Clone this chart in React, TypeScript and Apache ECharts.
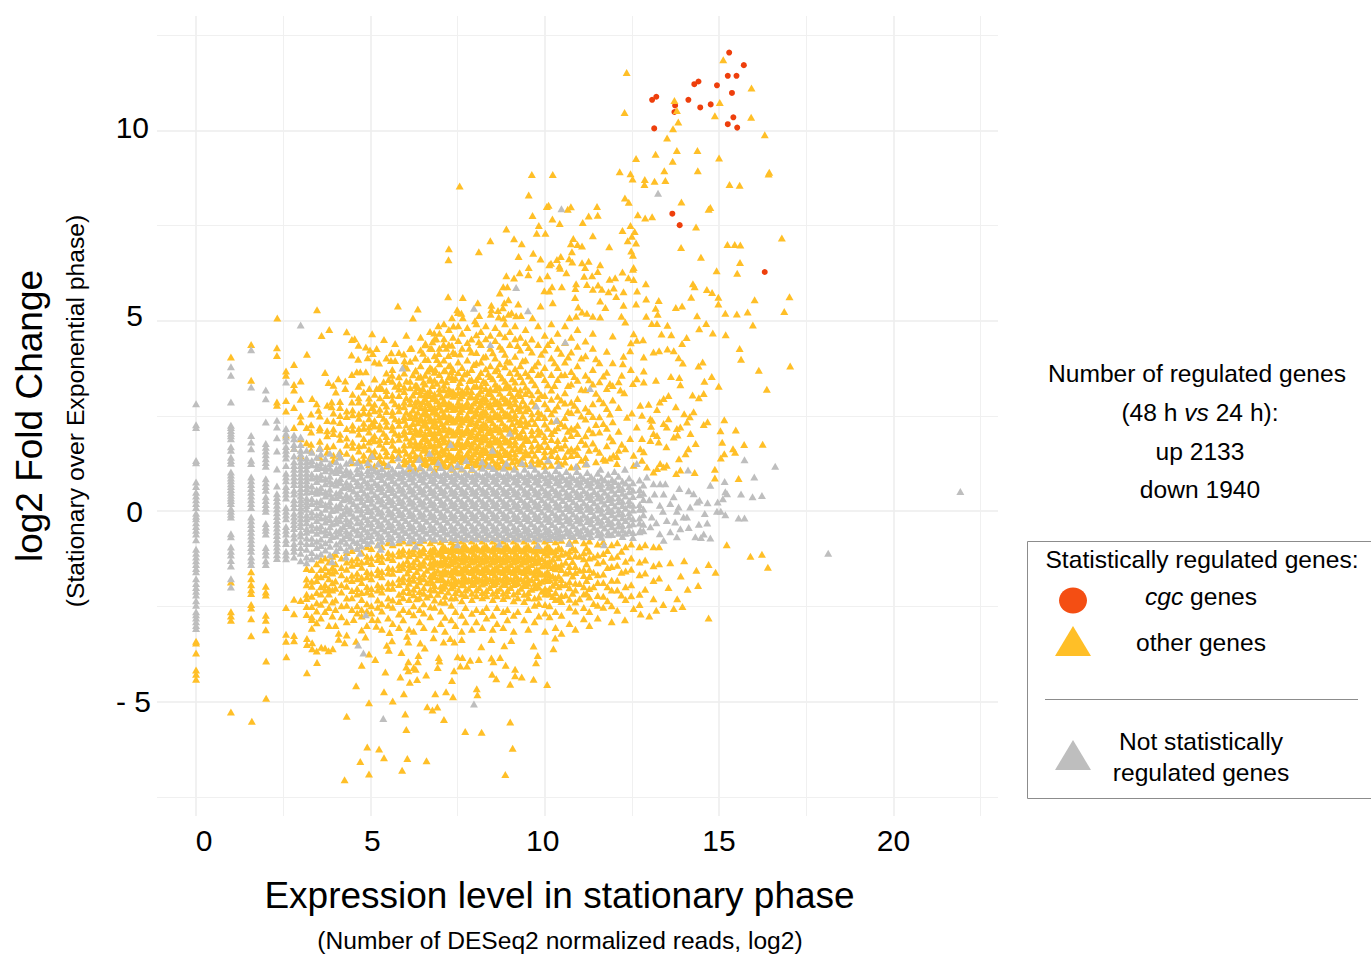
import React, { useEffect, useRef } from "react";
import * as echarts from "echarts";

const majorX = [0, 5, 10, 15, 20];
const minorX = [2.5, 7.5, 12.5, 17.5, 22.5];
const majorY = [-5, 0, 5, 10];
const minorY = [-7.5, -2.5, 2.5, 7.5, 12.5];
const xTickLabels = ["0", "5", "10", "15", "20"];
const yTickLabels = ["- 5", "0", "5", "10"];

const cgcGenes: number[][] = [
  [15.29,12.04],[15.71,11.71],[15.25,11.43],[15.5,11.43],[14.41,11.28],[14.29,11.21],[14.94,11.18],[15.37,10.98],[13.2,10.88],[13.08,10.8],[14.12,10.8],[13.74,10.65],[14.46,10.6],[14.76,10.68],[13.72,10.48],[15.41,10.34],[15.25,10.16],[15.52,10.07],[13.14,10.05],[13.66,7.81],[13.87,7.51],[16.31,6.28],
];

const otherTop: number[][] = [
  [15.12,11.85],[12.35,11.52],[15.93,11.11],[13.72,10.78],[15.02,10.73],[12.29,10.47],[13.79,10.52],[14.88,10.38],[15.92,10.34],[13.83,10.22],[13.68,10.04],[16.31,9.88],[13.51,9.8],[13.79,9.47],[14.38,9.47],[13.18,9.37],[12.62,9.26],[15,9.27],[13.67,9.19],[13.43,8.94],[14.39,8.94],[12.15,8.91],[12.46,8.86],[12.52,8.72],[12.87,8.71],[13.15,8.66],[13.46,8.68],[12.86,8.58],[16.44,8.9],[16.42,8.85],[15.3,8.58],[15.59,8.56],[12.3,8.22],[12.41,8.11],[13.92,8.12],[14.75,7.97],[14.7,7.93],[11.5,8],[11.26,7.75],[11.52,7.77],[12.67,7.78],[12.88,7.7],[13.08,7.73],[11.09,7.58],[12.46,7.5],[14.34,7.46],[12.23,7.37],[12.58,7.34],[11.38,7.23],[12.5,7.22],[12.38,7.1],[12.62,7.04],[16.8,7.17],[15.24,7],[15.45,7],[15.61,6.99],[11.07,6.96],[11.85,6.94],[13.91,6.92],[12.48,6.83],[12.53,6.72],[14.48,6.67],[15.6,6.53],[11.07,6.52],[11.26,6.56],[11.59,6.47],[11.16,6.4],[12.55,6.4],[12.53,6.35],[12.23,6.28],[11.52,6.29],[14.93,6.31],[15.52,6.25],[11.13,6.17],[11.36,6.18],[11.86,6.09],[12.02,6.13],[12.4,6.13],[12.55,6.08],[12.9,5.97],[14.25,5.97],[14.3,5.89],[11.21,5.95],[11.53,5.94],[11.38,5.83],[11.64,5.83],[14.65,5.82],[14.8,5.74],[11.98,5.86],[11.83,5.76],[12.05,5.64],[12.26,5.76],[12.65,5.78],[17.02,5.63],[14.2,5.62],[14.98,5.62],[16.02,5.55],[12.91,5.57],[13.27,5.53],[11.59,5.52],[14.98,5.44],[12.62,5.44],[12.26,5.41],[11.74,5.35],[13.94,5.39],[13.76,5.35],[13.18,5.33],[15.18,5.2],[15.82,5.23],[16.87,5.24],[15.51,5.18],[14.37,5.13],[13.24,5.17],[12.91,5.12],[12.2,5.12],[11.07,5.23],[11.21,5.2],[11.38,5.12],[11.59,5.1],
  [7.56,8.54],[9.63,8.84],[10.23,8.84],[9.54,8.3],[10.11,8.03],[10.06,8],[10.75,7.99],[10.66,7.93],[9.65,7.76],[10.22,7.67],[10.43,7.55],[9.83,7.5],[8.9,7.41],[9.77,7.3],[10.02,7.3],[9.12,7.15],[8.44,7.1],[9.34,7.02],[10.82,7.16],[10.75,7.02],[10.94,7],[7.25,6.89],[8.11,6.81],[7.24,6.6],[9.67,6.77],[10.78,6.81],[9.25,6.69],[9.88,6.62],[10.46,6.69],[10.35,6.61],[10.7,6.63],[10.79,6.54],[10.18,6.51],[10.13,6.47],[10.42,6.44],[10.44,6.38],[9.54,6.4],[9.28,6.26],[10.62,6.26],[9.53,6.21],[9.12,6.12],[8.9,6.18],[10.08,6.18],[9.86,6.1],[10.9,5.97],[8.81,5.89],[8.93,5.89],[10.21,5.89],[10.49,5.89],[9.99,5.79],[10.13,5.78],[10.88,5.85],[8.71,5.73],[7.23,5.63],[7.65,5.61],[10.87,5.61],[8.96,5.55],[8.84,5.47],[8.08,5.47],[9.24,5.44],[8.47,5.41],[9.88,5.39],[10.23,5.47],[8.8,5.34],[5.79,5.39],[6.36,5.31],[3.47,5.29],[2.33,5.07],[7.49,5.29],[7.61,5.2],[7.51,5.22],[8.66,5.27],[8.47,5.29],[9.05,5.21],[8.12,5.14],[8.45,5.17],[8.96,5.17],[9.18,5.13],[9.32,5.14],[8.68,5.1],[8.82,5.07],[9.65,5.08],[10.71,5.08],[10.9,5.12],[10.96,5.36],[6.22,5.07],[7.34,5.08],[7.65,5.08],[8,5],
];

const otherBottom: number[][] = [
  [4.26,-7.05],[4.96,-6.9],[5.91,-6.8],[8.87,-6.91],[4.71,-6.57],[5.39,-6.47],[6.06,-6.49],[6.61,-6.55],[4.91,-6.19],[5.25,-6.24],[9.08,-6.22],[6.03,-5.73],[7.72,-5.78],[8.19,-5.8],[9.01,-5.53],[7.11,-5.47],[4.32,-5.38],[6,-5.32],[6.78,-5.22],[6.92,-5.14],[6.63,-5.13],[1.6,-5.51],[1,-5.27],[2.01,-4.91],[4.96,-5.03],[5.64,-4.98],[8.07,-4.82],[8.05,-4.66],[7.37,-4.87],[7.17,-4.74],[6.86,-4.79],[5.96,-4.79],[5.39,-4.74],[10.07,-4.55],[9.01,-4.54],[4.59,-4.58],[7.34,-4.44],[6.13,-4.49],[6.34,-4.42],[6.6,-4.3],[5.86,-4.35],[5.43,-4.22],[3.18,-4.24],[0,-4.41],[0,-4.28],[0,-4.17],[0,-3.72],[0,-3.46],[0,-3.41],[2.01,-3.93],[3.47,-3.97],[2.59,-3.82],[4.75,-4.04],[5.14,-3.89],[4.96,-3.75],[4.59,-3.41],[4.86,-3.3],[4.75,-3.12],[4.26,-3.45],[4.09,-3.36],[4.09,-3.2],[4.32,-3.25],[3.92,-3.61],[3.8,-3.66],[3.7,-3.59],[3.59,-3.57],[3.46,-3.67],[3.33,-3.61],[3.33,-3.45],[3.18,-3.5],[3.18,-3.34],[2.81,-3.26],[2.81,-3.4],[2.58,-3.23],[2.58,-3.41],[1.58,-3.27],[2,-3.11],[2,-2.73],[2,-2.86],[1.58,-2.82],[1,-2.64],[1,-2.75],[1,-2.86],[1.58,-2.54],[1.58,-2.45],[1.58,-2.16],[1.58,-2.06],[1.58,-1.93],[1.58,-1.77],[1.58,-1.59],[2,-2.2],[2,-2.12],[2,-1.97],[1,-1.86],[2.58,-2.53],[2.81,-2.69],[2.81,-2.31],[3,-2.34],[3.17,-2.29],[3.17,-2.71],[3.32,-2.84],[3.32,-2.77],[3.46,-2.93],[3.32,-3.07],[3.46,-2.62],[3.7,-2.63],[3.91,-2.75],[4.17,-2.77],[4.52,-2.84],[4.75,-2.75],[5.05,-2.84],[5.17,-3.02],[5.55,-3.18],[5.62,-3.4],[5.47,-3.52],[5.53,-3.65],[5.89,-3.71],[6.56,-3.59],[6.43,-3.46],[6.05,-3.28],[6.09,-3.43],[6.81,-3.32],[7.1,-3.43],[7.29,-3.34],[7.41,-3.43],[7.62,-3.37],[8.18,-3.56],[8.47,-3.37],[8.84,-3.53],[9.04,-3.39],[9.68,-3.54],[10.3,-3.33],[10.25,-3.61],[9.8,-3.79],[9.75,-3.98],[8.72,-3.84],[8.47,-3.85],[8.53,-3.95],[8.88,-4.04],[9.15,-4.15],[9.15,-4.32],[9.34,-4.35],[8.49,-4.28],[8.61,-4.4],[9.68,-4.41],[8.11,-3.89],[7.86,-3.91],[7.77,-4.06],[7.58,-4.06],[7.64,-3.84],[7.5,-3.82],[7.4,-4.19],[6.96,-3.84],[6.98,-3.93],[6.93,-4.1],[6.38,-3.79],[6.36,-3.95],[6.09,-3.95],[6.03,-4.09],[6.09,-4.19],[6.24,-4.1],[6.3,-4.15],
  [15.22,-.88],[15.9,-1.18],[16.23,-1.13],[16.4,-1.47],[14.7,-1.4],[14.9,-1.6],[14.7,-2.8],[14.35,-1.55],[14.4,-1.95],[14,-1.3],[14.1,-2.05],[13.9,-1.7],[13.8,-2.3],[13.95,-2.5],[13.6,-1.35],[13.55,-2],[13.4,-2.45],[13.2,-2.6],[13,-2.75],[12.75,-2.7],[12.55,-2.55],[12.3,-2.85],[13.7,-2.55],
];

const otherUpperLeft: number[][] = [
  [3.82,4.77],[3.6,4.61],[4.32,4.71],[5.05,4.66],[5.39,4.51],[4.47,4.51],[4.55,4.53],[4.66,4.36],[3.18,4.12],[4.46,4.1],[4.87,4.31],[4.99,4.23],[5.18,4.27],[4.92,4.03],[5.07,4.14],[4.65,3.99],[5.25,3.89],[5.6,4.16],[5.96,4.13],[6.18,4.28],[5.59,3.96],[5.71,3.96],[5.98,3.95],[6.58,4.4],[6.95,4.87],[6.83,4.68],[6.89,4.53],[6.76,4.27],[6.96,4.14],[7.1,4.38],[7.34,4.36],[7.43,4.14],[7.24,4.09],[7.38,4.86],[6.65,3.98],[6.76,3.74],[6.86,3.72],[6.3,3.7],[6.05,3.76],[3.7,3.64],[2.81,3.85],[4.47,3.59],[4.61,3.66],[4.71,3.66],[4.87,3.66],[3,3.42],[3.8,3.38],[4.08,3.48],[4.28,3.42],[3.94,3.31],[4.01,3.13],[4.28,3.22],[4.66,3.28],[4.75,3.37],[4.97,3.22],[5.52,3.46],[5.62,3.57],[5.83,3.35],[5.18,3.22],[5.33,3.22],[6.38,3.52],[6.33,3.31],[6.52,3.39],[6.71,3.44],[7.14,3.7],[7.29,3.83],[7.34,3.52],[3.33,2.96],[3,2.94],[4.66,2.98],[4.47,2.87],[4.13,2.72],[3.89,2.87],[3.46,2.82],[3.51,2.65],[3.89,2.74],
  [1,4.05],[1.58,4.38],[1.58,3.44],[2.32,4.29],[2.32,4.09],[2.32,2.87],[2.32,2.78],[2.58,3.68],[2.58,3.57],[2.58,2.91],[2.58,2.63],[2.81,3.33],[2.81,3.18],[2.81,2.72],[3,2.5],[3,2.35],[3.17,2.2],[2.81,2.2],[2.58,2],[3,1.9],[3.17,1.8],[2.81,1.65],[3,1.45],
];

const otherUpperRight: number[][] = [
  [15.97,4.89],[15.19,4.63],[14.82,4.68],[14.63,4.93],[14.43,4.79],[14.07,4.56],[13.94,4.4],[13.63,4.63],[13.35,4.65],[15.59,4.27],[15.63,3.99],[16.14,3.7],[17.04,3.81],[16.37,3.2],[14.79,3.54],[14.58,3.41],[14.99,3.28],[14.53,3.92],[14.41,3.81],[13.96,3.89],[13.52,4.26],[13.7,4.21],[13.84,4.03],[13.19,3.44],[12.84,4.05],[13.12,4.18],[13.28,4.21],[12.84,3.68],[12.84,3.39],[13.62,3.54],[13.86,3.51],[13.89,3.32],[13.76,2.74],[14.24,3.05],[14.42,2.98],[14.56,3.09],[14.27,2.61],[14,2.56],[14.16,2.48],[14.08,2.34],[14.67,2.35],[14.56,2.28],[15.15,2.4],[15.04,2.11],[15.48,2.13],[15.09,1.81],[15.72,1.75],[16.25,1.76],[15.4,1.64],[15.46,1.55],[14.33,1.78],[14.18,2.04],[14.12,1.64],[14.04,1.51],[15.15,1.51],[15.05,1.4],[13.85,1.38],[14.88,1.1],[13.89,1.08],[14.3,1.02],[13.77,.99],[14.88,.87],[15.56,.86],
  [12.31,4.97],[12.55,4.66],[12.64,4.49],[12.82,4.5],[12.47,4.42],[13.07,4.93],[13.22,4.93],[13.52,4.88],[12.45,4.21],[12.26,4.07],[12.24,3.87],[12.47,3.72],[12.21,3.57],[12.64,3.48],[12.53,3.35],[12.17,3.18],[12.28,3.11],[13.55,3.04],[13.41,2.96],[13.3,2.87],[12.98,2.81],[12.74,2.78],[13.22,2.67],[12.5,2.58],[12.79,2.52],[13.03,2.43],[13.08,2.39],[13.55,2.43],[13.41,2.3],[13.5,2.21],[12.64,2.21],[13.05,2.23],[12.36,2.47],[13.79,2.17],[13.89,2.21],[13.7,1.95],[13.81,2],[13.12,2.04],[13.22,1.99],[12.45,1.91],[12.79,1.91],[13.03,1.86],[13.27,1.82],[13.49,1.69],[12.74,1.64],[12.84,1.56],[12.55,1.47],[12.21,1.76],[12.31,1.64],[11.97,1.47],[12.07,1.44],[13.31,1.25],[13.5,1.21],[13.22,1.12],[13.41,1.16],[13.12,1.03],[12.93,1.16],[12.55,1.21],[12.79,1.34],[12.07,1.25],[11.74,1.34],
];

const otherUpColumns: [number, number[]][] = [
  [3.3,[2.55,2.27,2.08,1.76,1.6]],[3.55,[2.5,2.2,2.13,1.84,1.67,1.42]],[3.76,[2.78,2.38,2.11,1.98,1.7,1.55]],[3.94,[2.58,2.37,2.16,2.04,1.72,1.47,1.33]],[4.13,[2.88,2.51,2.33,2.02,1.89,1.57,1.44]],[4.32,[2.63,2.49,2.17,1.92,1.74,1.52]],[4.49,[3.07,2.66,2.53,2.26,2.13,1.81,1.68,1.41,1.27]],[4.67,[2.87,2.56,2.44,2.17,2.03,1.72,1.58,1.32]],[4.81,[3.13,2.72,2.59,2.31,2.18,1.91,1.73,1.47,1.34]],[4.96,[2.97,2.84,2.57,2.43,2.21,2.08,1.82,1.63,1.37,1.22]],
  [5.12,[3.92,3.47,3.07,2.81,2.64,2.38,2.24,1.98,1.85,1.58,1.44,1.19]],[5.27,[3.27,2.98,2.68,2.54,2.26,2.16,1.88,1.76,1.46,1.33]],[5.46,[4.02,3.63,3.17,3.04,2.76,2.62,2.36,2.23,1.96,1.83,1.57,1.45,1.19]],[5.63,[3.72,3.41,3.05,2.92,2.62,2.52,2.24,2.14,1.87,1.73,1.46,1.35]],[5.82,[4.17,3.53,3.21,3.04,2.76,2.64,2.38,2.26,2.01,1.89,1.61,1.49,1.21]],[5.97,[3.82,3.63,3.26,3.14,2.86,2.74,2.48,2.39,2.11,2.02,1.74,1.62,1.36,1.24]],[6.14,[4.27,3.94,3.41,3.24,2.94,2.82,2.56,2.46,2.21,2.09,1.84,1.74,1.46,1.36,1.11]],[6.29,[4.02,3.68,3.31,3.14,2.86,2.76,2.51,2.42,2.16,2.06,1.81,1.72,1.46,1.36,1.11]],
  [6.44,[4.57,4.23,3.82,3.54,3.16,3.06,2.81,2.72,2.46,2.39,2.14,2.04,1.81,1.72,1.46,1.39,1.14]],[6.57,[4.37,3.98,3.57,3.34,3.06,2.96,2.71,2.62,2.38,2.29,2.04,1.96,1.71,1.64,1.38,1.29]],[6.71,[4.72,4.28,3.77,3.49,3.16,3.04,2.8,2.7,2.46,2.37,2.12,2.04,1.79,1.71,1.48,1.39,1.16]],[6.84,[4.52,4.08,3.65,3.44,3.08,2.99,2.72,2.64,2.4,2.31,2.06,1.98,1.73,1.64,1.4,1.32,1.08]],[6.98,[4.67,4.28,3.87,3.59,3.21,3.09,2.82,2.74,2.48,2.39,2.14,2.06,1.81,1.74,1.49,1.41,1.16]],[7.11,[4.92,4.53,3.97,3.69,3.31,3.19,2.91,2.82,2.56,2.48,2.23,2.14,1.91,1.82,1.58,1.5,1.26,1.18]],[7.25,[4.77,4.38,3.82,3.54,3.21,3.09,2.84,2.74,2.5,2.41,2.16,2.08,1.83,1.74,1.51,1.42,1.18]],[7.37,[4.57,4.18,3.72,3.46,3.14,3.02,2.76,2.67,2.42,2.34,2.09,2,1.76,1.67,1.43,1.34,1.1]],[7.52,[4.87,4.48,3.92,3.64,3.26,3.12,2.86,2.76,2.51,2.42,2.18,2.09,1.84,1.76,1.52,1.44,1.18]],[7.63,[4.67,4.28,3.77,3.49,3.16,3.04,2.78,2.68,2.44,2.34,2.1,2.02,1.76,1.69,1.44,1.36,1.11]],[7.78,[4.82,4.43,3.97,3.64,3.26,3.14,2.86,2.77,2.52,2.44,2.18,2.1,1.86,1.77,1.52,1.44,1.2]],[7.9,[4.52,4.18,3.72,3.46,3.14,3.01,2.76,2.66,2.42,2.34,2.09,2,1.76,1.68,1.44,1.34,1.1]],[8.04,[4.92,4.63,4.17,3.89,3.46,3.29,3.01,2.91,2.66,2.56,2.32,2.24,1.99,1.9,1.66,1.57,1.33,1.24]],[8.17,[4.72,4.38,3.92,3.64,3.29,3.16,2.9,2.8,2.56,2.48,2.22,2.14,1.9,1.82,1.56,1.49,1.24,1.16]],[8.31,[4.87,4.53,4.07,3.74,3.38,3.22,2.96,2.86,2.61,2.52,2.28,2.19,1.96,1.87,1.62,1.54,1.29,1.21]],[8.44,[4.62,4.28,3.82,3.54,3.21,3.09,2.82,2.74,2.49,2.4,2.16,2.07,1.83,1.74,1.5,1.42,1.18]],[8.58,[4.82,4.48,4.02,3.69,3.34,3.19,2.91,2.82,2.56,2.48,2.23,2.14,1.9,1.82,1.56,1.49,1.24,1.16]],[8.71,[4.67,4.33,3.87,3.59,3.24,3.1,2.84,2.74,2.5,2.42,2.16,2.08,1.84,1.74,1.51,1.42,1.16]],[8.86,[4.92,4.58,4.12,3.79,3.41,3.24,2.96,2.84,2.58,2.5,2.24,2.16,1.91,1.82,1.58,1.49,1.26,1.18]],[9,[4.72,4.38,3.92,3.64,3.26,3.12,2.86,2.76,2.51,2.42,2.16,2.08,1.84,1.74,1.5,1.42,1.16]],[9.15,[4.87,4.53,4.07,3.74,3.39,3.22,2.94,2.82,2.54,2.44,2.18,2.1,1.84,1.74,1.51,1.4,1.16]],[9.3,[4.57,4.23,3.82,3.54,3.18,3.04,2.76,2.64,2.38,2.28,2.02,1.94,1.68,1.59,1.34,1.26]],[9.45,[4.77,4.43,3.97,3.64,3.26,3.09,2.78,2.64,2.36,2.24,1.96,1.86,1.58,1.49,1.24]],[9.63,[4.52,4.18,3.72,3.44,3.06,2.89,2.56,2.42,2.12,2,1.71,1.59,1.34,1.24]],[9.81,[4.87,4.38,3.92,3.59,3.16,2.96,2.61,2.46,2.16,2.02,1.74,1.62,1.34,1.24]],[10,[4.62,4.23,3.77,3.46,3.04,2.82,2.46,2.29,1.96,1.84,1.56,1.44,1.18]],[10.19,[4.92,4.48,4.02,3.59,3.18,2.94,2.56,2.36,2.04,1.88,1.58,1.46,1.21]],[10.37,[4.67,4.28,3.77,3.46,3.02,2.76,2.38,2.19,1.86,1.72,1.44,1.32]],[10.58,[4.87,4.43,3.92,3.59,3.11,2.84,2.46,2.24,1.91,1.74,1.44,1.29]],[10.76,[4.57,4.18,3.67,3.34,2.86,2.59,2.18,1.99,1.64,1.46,1.16]],[10.94,[4.77,4.33,3.82,3.44,2.96,2.66,2.26,2.04,1.68,1.49,1.18]],[11.17,[4.47,4.08,3.57,3.19,2.71,2.42,1.98,1.76,1.41,1.24]],[11.38,[4.67,4.28,3.72,3.34,2.82,2.49,2.06,1.79]],[11.57,[3.9,3.4,2.95,2.48,2.08,1.55]],[11.78,[4.2,3.65,3.22,2.7,2.18,1.72]],[11.95,[4.6,3.9,3.3,2.92,2.35,1.85]],
];

const otherUpFill: [number, number[]][] = [
  [5.05,[2.72,2.3,1.9,1.52]],[5.38,[3.4,2.85,2.44,2.05,1.66,1.28]],[5.71,[4.4,3.28,2.82,2.42,2.05,1.62]],[6.03,[4.62,3.42,2.98,2.6,2.27,1.92,1.52,1.3]],[6.22,[3.58,3.05,2.66,2.3,1.95,1.58,1.24]],[6.36,[3.25,2.9,2.6,2.32,2.02,1.66,1.42]],[6.51,[4.15,3.22,2.88,2.56,2.26,1.9,1.6,1.25]],[6.64,[3.68,3.12,2.84,2.52,2.2,1.86,1.54,1.22]],[6.78,[4.45,3.3,2.95,2.6,2.24,1.92,1.55,1.3]],[6.91,[3.98,3.36,2.9,2.56,2.22,1.88,1.56,1.24]],[7.05,[3.44,3,2.65,2.3,1.96,1.62,1.3]],[7.18,[4.28,3.4,3.05,2.68,2.34,2,1.66,1.36]],[7.31,[3.66,3.15,2.8,2.46,2.12,1.78,1.46,1.24]],[7.44,[3.5,3.05,2.7,2.36,2.02,1.68,1.38]],[7.57,[4.13,3.38,2.97,2.62,2.28,1.94,1.6,1.3]],[7.7,[3.6,3.1,2.75,2.4,2.06,1.72,1.4]],[7.84,[4.28,3.43,3,2.64,2.3,1.96,1.6,1.28]],[7.97,[3.85,3.28,2.84,2.5,2.16,1.82,1.5,1.22]],[8.11,[4.45,3.54,3.08,2.74,2.4,2.06,1.72,1.4]],[8.24,[4.05,3.42,2.98,2.64,2.3,1.98,1.64,1.32]],[8.38,[3.6,3.12,2.78,2.44,2.1,1.78,1.44]],[8.51,[4.16,3.48,3,2.66,2.32,1.98,1.66,1.34]],[8.64,[3.75,3.28,2.88,2.54,2.2,1.88,1.54,1.26]],[8.78,[4.25,3.5,3,2.66,2.32,1.99,1.66,1.33]],[8.92,[3.95,3.32,2.9,2.56,2.2,1.86,1.54,1.24]],[9.07,[3.48,3.02,2.66,2.3,1.96,1.62,1.3]],[9.22,[4.35,3.62,3.08,2.7,2.34,1.98,1.64,1.32]],[9.37,[3.95,3.4,2.9,2.5,2.12,1.76,1.42]],[9.54,[4.3,3.55,3.16,2.7,2.3,1.86,1.48]],[9.72,[3.82,3.32,2.78,2.3,1.88,1.47]],[9.9,[4.12,3.62,3.05,2.55,2.08,1.7,1.3]],[10.09,[4.38,3.32,2.7,2.18,1.7,1.32]],[10.28,[3.9,3.3,2.66,2.12,1.62]],[10.47,[4.15,3.58,2.92,2.3,1.66,1.24]],[10.67,[4.05,3.3,2.62,2.1,1.58]],[10.85,[3.54,2.78,2.15,1.58]],[11.05,[4.02,3.2,2.5,1.86,1.34]],[11.27,[3.45,2.62,2.15,1.6]],[11.47,[4,3.1,2.28,1.64,1.3]],[11.68,[3.55,2.85,2.3,1.38]],[11.87,[3.35,2.55,1.95,1.4]],[12.12,[3.4,2.72,2.1,1.6]],
];

const otherDownColumns: [number, number[]][] = [
  [3.17,[-1.5,-1.78,-1.93,-2.18,-2.5]],[3.32,[-1.53,-1.84,-1.97,-2.23,-2.5]],[3.46,[-1.38,-1.68,-1.82,-2.13,-2.4]],[3.58,[-1.28,-1.53,-1.72,-1.98,-2.17,-2.44,-2.8]],[3.7,[-1.23,-1.48,-1.67,-1.93,-2.07,-2.33]],[3.81,[-1.33,-1.58,-1.77,-2.03,-2.17,-2.53,-3]],[3.91,[-1.18,-1.48,-1.62,-1.88,-2.07,-2.38]],[4,[-1.13,-1.38,-1.57,-1.83,-2.02,-2.33,-2.58,-3]],[4.17,[-1.23,-1.48,-1.67,-1.93,-2.12,-2.48]],[4.32,[-1.08,-1.33,-1.52,-1.78,-1.97,-2.28,-2.47,-2.9]],[4.47,[-1.03,-1.28,-1.42,-1.68,-1.82,-2.08,-2.27,-2.58]],[4.62,[-.98,-1.23,-1.37,-1.63,-1.77,-2.03,-2.17,-2.48,-2.67]],[4.75,[-1.08,-1.33,-1.47,-1.73,-1.87,-2.13,-2.32,-2.58]],[4.9,[-.93,-1.18,-1.32,-1.58,-1.72,-1.98,-2.12,-2.43,-2.62,-3]],
  [5.03,[-.98,-1.23,-1.37,-1.63,-1.77,-2.03,-2.17,-2.48,-2.67]],[5.21,[-.88,-1.13,-1.27,-1.53,-1.67,-1.93,-2.07,-2.33,-2.52,-2.85]],[5.33,[-.93,-1.18,-1.32,-1.58,-1.72,-1.98,-2.12,-2.43,-2.62,-3.1]],[5.51,[-.83,-1.08,-1.22,-1.48,-1.62,-1.88,-2.02,-2.28,-2.47,-2.8]],[5.64,[-.88,-1.13,-1.27,-1.51,-1.63,-1.88,-2.02,-2.33,-2.52,-2.95]],[5.82,[-.83,-1.05,-1.17,-1.41,-1.53,-1.78,-1.92,-2.18,-2.37,-2.7,-3.05]],[5.94,[-.78,-1.01,-1.13,-1.37,-1.49,-1.73,-1.85,-2.11,-2.27,-2.58,-2.85]],[6.11,[-.83,-1.05,-1.17,-1.41,-1.53,-1.77,-1.89,-2.13,-2.32,-2.63,-3.1]],[6.24,[-.78,-1,-1.11,-1.33,-1.45,-1.69,-1.81,-2.05,-2.19,-2.48,-2.72,-3.15]],[6.41,[-.83,-1.05,-1.15,-1.38,-1.49,-1.73,-1.85,-2.11,-2.27,-2.58,-2.9]],[6.53,[-.76,-.98,-1.09,-1.31,-1.42,-1.65,-1.77,-2.01,-2.15,-2.43,-2.67,-3.05]],[6.72,[-.83,-1.03,-1.13,-1.35,-1.47,-1.7,-1.81,-2.05,-2.19,-2.51,-2.77]],[6.84,[-.76,-.97,-1.07,-1.29,-1.39,-1.61,-1.72,-1.95,-2.07,-2.33,-2.52,-3.1]],[7.02,[-.8,-1.01,-1.1,-1.31,-1.41,-1.63,-1.73,-1.97,-2.09,-2.38,-2.62,-2.95]],[7.14,[-.74,-.95,-1.03,-1.25,-1.34,-1.55,-1.65,-1.87,-1.97,-2.23,-2.39,-2.78,-3.15]],[7.32,[-.8,-.99,-1.07,-1.28,-1.37,-1.58,-1.67,-1.89,-2.01,-2.28,-2.47,-2.85]],[7.44,[-.74,-.93,-1.01,-1.21,-1.3,-1.5,-1.59,-1.8,-1.9,-2.13,-2.27,-2.63,-3]],[7.62,[-.78,-.97,-1.05,-1.25,-1.33,-1.53,-1.61,-1.83,-1.93,-2.17,-2.35,-2.73,-3.15]],[7.73,[-.73,-.91,-.99,-1.19,-1.27,-1.47,-1.55,-1.75,-1.84,-2.07,-2.21,-2.53,-2.9]],[7.91,[-.78,-.97,-1.05,-1.25,-1.33,-1.53,-1.61,-1.82,-1.92,-2.15,-2.32,-2.68,-3.1]],[8.04,[-.72,-.91,-.99,-1.19,-1.27,-1.47,-1.55,-1.75,-1.84,-2.07,-2.22,-2.58,-2.9]],[8.21,[-.78,-.97,-1.05,-1.25,-1.33,-1.53,-1.61,-1.81,-1.91,-2.13,-2.27,-2.63,-3.05]],[8.33,[-.72,-.91,-.99,-1.19,-1.27,-1.47,-1.55,-1.75,-1.84,-2.08,-2.22,-2.53,-2.8]],[8.51,[-.78,-.97,-1.05,-1.25,-1.33,-1.53,-1.61,-1.82,-1.92,-2.15,-2.32,-2.73,-3.1]],[8.63,[-.72,-.91,-.99,-1.19,-1.27,-1.47,-1.55,-1.75,-1.85,-2.08,-2.22,-2.53,-2.95]],[8.81,[-.78,-.97,-1.05,-1.25,-1.33,-1.53,-1.61,-1.81,-1.91,-2.15,-2.29,-2.63,-3.05]],[8.93,[-.72,-.91,-.99,-1.19,-1.27,-1.47,-1.55,-1.75,-1.85,-2.08,-2.22,-2.58,-2.85]],[9.11,[-.78,-.97,-1.05,-1.25,-1.33,-1.53,-1.61,-1.82,-1.92,-2.17,-2.35,-2.73,-3.15]],[9.23,[-.72,-.91,-.99,-1.19,-1.27,-1.47,-1.55,-1.76,-1.87,-2.11,-2.27,-2.63]],[9.41,[-.78,-.97,-1.05,-1.25,-1.33,-1.53,-1.61,-1.83,-1.93,-2.18,-2.37,-2.85]],[9.53,[-.72,-.91,-.99,-1.19,-1.27,-1.47,-1.57,-1.79,-1.89,-2.13,-2.27,-2.58,-3.1]],[9.71,[-.78,-.97,-1.05,-1.25,-1.35,-1.57,-1.67,-1.89,-2.01,-2.28,-2.47,-2.9]],[9.83,[-.72,-.91,-1.01,-1.23,-1.33,-1.55,-1.65,-1.88,-1.99,-2.25,-2.42,-2.75]],[10.01,[-.78,-.99,-1.09,-1.31,-1.42,-1.65,-1.77,-2.03,-2.17,-2.45,-2.67,-3.15]],[10.14,[-.74,-.95,-1.07,-1.31,-1.43,-1.67,-1.79,-2.03,-2.17,-2.48,-2.77]],[10.31,[-.8,-1.03,-1.15,-1.39,-1.51,-1.75,-1.87,-2.13,-2.32,-2.63,-3.05]],[10.48,[-.76,-.99,-1.13,-1.39,-1.53,-1.79,-1.93,-2.21,-2.37,-2.73,-3.2]],[10.71,[-.8,-1.05,-1.19,-1.45,-1.59,-1.85,-2.01,-2.31,-2.52,-2.95]],[10.88,[-.76,-1.01,-1.17,-1.45,-1.61,-1.89,-2.07,-2.38,-2.62,-3.1]],[11.12,[-.83,-1.09,-1.25,-1.53,-1.69,-1.98,-2.17,-2.53,-2.82]],[11.28,[-.78,-1.05,-1.23,-1.53,-1.71,-2.03,-2.25,-2.63,-3]],[11.52,[-.86,-1.15,-1.35,-1.67,-1.87,-2.21,-2.47,-2.8]],[11.68,[-.8,-1.11,-1.31,-1.65,-1.87,-2.23,-2.52]],[11.92,[-.88,-1.21,-1.45,-1.81,-2.07,-2.48,-2.9]],[12.08,[-.83,-1.18,-1.42,-1.81,-2.07,-2.6]],[12.32,[-.93,-1.31,-1.57,-1.98,-2.32]],[12.48,[-.86,-1.23,-1.52,-1.93,-2.22]],[12.72,[-.93,-1.33,-1.67,-2.18,-2.45]],[12.88,[-.88,-1.28,-1.62,-2.05]],[13.12,[-.93,-1.43,-1.82,-2.3]],[13.28,[-.93,-1.38,-1.75]],
];

const otherDownFill: [number, number[]][] = [
  [6.06,[-1.3,-1.62,-2]],[6.33,[-1.25,-1.58,-1.95,-2.3]],[6.62,[-1.2,-1.55,-1.88,-2.25]],[6.78,[-1.02,-1.2,-1.45,-1.66,-1.88]],[6.93,[-1.13,-1.35,-1.55,-1.8,-2.18]],[7.08,[-.92,-1.16,-1.37,-1.58,-1.79,-2.02]],[7.23,[-1.02,-1.2,-1.42,-1.6,-1.83,-2.12]],[7.38,[-.9,-1.14,-1.33,-1.54,-1.73,-1.96]],[7.53,[-1.03,-1.22,-1.42,-1.62,-1.83,-2.06]],[7.67,[-.92,-1.12,-1.31,-1.5,-1.7,-1.92]],[7.82,[-1.02,-1.21,-1.4,-1.59,-1.79,-2.02]],[7.97,[-.93,-1.12,-1.31,-1.5,-1.69,-1.9]],[8.12,[-1.02,-1.21,-1.39,-1.59,-1.78,-2]],[8.27,[-.93,-1.12,-1.3,-1.49,-1.68,-1.88]],[8.42,[-1.02,-1.21,-1.39,-1.58,-1.77,-2]],[8.57,[-.93,-1.12,-1.31,-1.49,-1.68,-1.9]],[8.72,[-1.03,-1.22,-1.4,-1.59,-1.78,-2.02]],[8.87,[-.93,-1.12,-1.31,-1.5,-1.69,-1.92]],[9.02,[-1.03,-1.21,-1.4,-1.58,-1.78,-2]],[9.17,[-.92,-1.12,-1.3,-1.49,-1.69,-1.9]],[9.32,[-1.03,-1.21,-1.39,-1.58,-1.78,-2.02]],[9.47,[-.93,-1.12,-1.31,-1.5,-1.7,-1.95]],[9.62,[-1.02,-1.22,-1.4,-1.6,-1.8,-2.05]],[9.77,[-.93,-1.13,-1.33,-1.52,-1.74,-1.98]],[9.92,[-1.04,-1.24,-1.44,-1.64,-1.84,-2.1]],[10.08,[-.92,-1.15,-1.36,-1.58,-1.82,-2.1]],[10.23,[-1.06,-1.26,-1.48,-1.7,-1.94,-2.24]],[10.4,[-.95,-1.22,-1.46,-1.7,-1.98,-2.3]],[10.6,[-1.1,-1.34,-1.62,-1.92,-2.2]],[10.8,[-.96,-1.32,-1.7,-2.15]],[11,[-1.18,-1.55,-1.9,-2.3]],[11.2,[-.96,-1.38,-1.82,-2.15]],[11.4,[-1.2,-1.6,-1.98,-2.42]],[11.8,[-1.03,-1.48,-1.98,-2.35]],[12.2,[-1.05,-1.6,-2.2]],
];

const grayColumns: [number, number[]][] = [
  [0,[2.82,2.27,2.2,1.33,1.27,.77,.65,.5,.4,.3,.2,.1,-.05,-.13,-.2,-.3,-.4,-.5,-.6,-.75,-1,-1.1,-1.2,-1.3,-1.4,-1.5,-1.59,-1.77,-1.9,-2,-2.1,-2.2,-2.35,-2.47,-2.64,-2.72,-2.8,-2.9,-3,-3.08]],
  [1,[3.79,3.57,2.87,2.26,2.2,2.12,2.05,1.98,1.9,1.69,1.6,1.42,1.33,1.26,1.03,.95,.87,.8,.72,.65,.57,.5,.42,.35,.28,.2,.07,0,-.08,-.15,-.59,-.67,-.94,-1.05,-1.15,-1.29,-1.44,-1.77,-1.99]],
  [1.58,[4.24,3.26,1.99,1.82,1.64,1.34,1.25,.9,.8,.7,.6,.5,.4,.3,.2,.1,-.15,-.25,-.35,-.45,-.55,-.65,-.75,-.85,-.95,-1.05,-1.2,-1.3,-1.4]],
  [2,[3.18,2.95,2.34,1.78,1.68,1.58,1.48,1.38,1.28,1.18,.85,.75,.65,.55,.38,.28,.18,.08,0,-.32,-.42,-.5,-.6,-.95,-1.05,-1.15,-1.3,-1.4]],
  [2.32,[2.39,2.21,1.93,1.58,1.11,.66,.46,.36,.26,.16,.06,-.04,-.14,-.24,-.34,-.44,-.54,-.64,-.74,-.84,-.94,-1.04,-1.14,-1.24]],
  [2.58,[3.39,2.17,2.05,1.95,1.85,1.7,1.6,1.5,1.4,1.2,1,.9,.8,.65,.55,.45,.35,.1,0,-.1,-.2,-.4,-.5,-.6,-.75,-.85,-1.05,-1.15,-1.25]],
  [2.81,[2,1.9,1.75,1.65,1.45,1.3,1.2,1.1,1,.9,.8,.7,.55,.45,.3,.2,.1,-.05,-.15,-.25,-.35,-.45,-.6,-.7,-.85,-.95,-1.05,-1.2]],
  [3,[1.95,1.75,1.6,1.5,1.4,1.3,1.2,1.1,1,.9,.8,.7,.6,.5,.4,.3,.2,.1,0,-.1,-.2,-.3,-.4,-.55,-.65,-.8,-.95,-1.1,-1.3]],
  [3.17,[1.6,1.4,1.3,1.2,1.1,1,.9,.8,.7,.6,.5,.35,.25,.15,.05,-.1,-.2,-.3,-.45,-.55,-.7,-.85,-1,-1.2,-1.35]],
  [3.32,[1.55,1.33,1.22,.98,.87,.66,.52,.33,.2,-.02,-.15,-.36,-.5,-.71,-.85,-1.08,-1.25]],
  [3.46,[1.42,1.22,1.12,.91,.78,.57,.47,.25,.1,-.1,-.24,-.43,-.58,-.79,-.95,-1.18]],
  [3.58,[1.5,1.27,1.15,.96,.84,.62,.5,.29,.18,-.04,-.18,-.38,-.52,-.73,-.9,-1.12]],
  [3.71,[1.38,1.17,1.06,.86,.72,.51,.4,.18,.05,-.16,-.28,-.49,-.62,-.83,-1.02]],
  [3.84,[1.52,1.25,1.13,.92,.79,.58,.45,.25,.13,-.09,-.22,-.41,-.56,-.75,-.92,-1.14]],
  [4.02,[1.3,1.12,1.02,.8,.69,.48,.36,.14,.03,-.19,-.31,-.52,-.65,-.86,-1.03]],
  [4.14,[1.42,1.19,1.07,.86,.75,.53,.41,.2,.09,-.12,-.25,-.46,-.58,-.79,-.95]],
  [4.31,[1.26,1.09,.97,.76,.64,.44,.33,.12,0,-.2,-.32,-.52,-.64,-.84,-1.02]],
  [4.43,[1.33,1.03,.92,.7,.59,.38,.27,.06,-.05,-.26,-.38,-.58,-.7,-.92]],
  [4.62,[1.28,1.11,.99,.78,.67,.46,.35,.14,.03,-.18,-.3,-.5,-.62,-.82,-.97]],
  [4.74,[1.18,1.01,.89,.68,.57,.36,.25,.04,-.07,-.28,-.4,-.6,-.72,-.91]],
  [4.92,[1.27,1.07,.95,.74,.63,.42,.31,.1,-.01,-.22,-.34,-.54,-.66,-.85]],
  [5.03,[1.14,.97,.85,.64,.53,.32,.21,0,-.11,-.32,-.44,-.64,-.78]],
  [5.22,[1.24,1.03,.91,.7,.59,.38,.27,.06,-.05,-.26,-.38,-.58,-.7,-.88]],
  [5.33,[1.12,.95,.83,.62,.51,.3,.19,-.02,-.13,-.34,-.46,-.66,-.79]],
  [5.52,[1.22,1.01,.89,.68,.57,.36,.25,.04,-.07,-.28,-.4,-.6,-.72]],
  [5.63,[1.1,.93,.81,.6,.49,.28,.17,-.04,-.15,-.36,-.48,-.68,-.82]],
  [5.82,[1.2,.99,.87,.66,.55,.34,.23,.02,-.09,-.3,-.42,-.62,-.75]],
  [5.93,[1.07,.91,.79,.58,.47,.26,.15,-.06,-.17,-.38,-.5,-.69]],
  [6.12,[1.18,.97,.85,.64,.53,.32,.21,0,-.11,-.32,-.44,-.64,-.78]],
  [6.23,[1.05,.89,.77,.56,.45,.24,.13,-.08,-.19,-.4,-.52,-.71]],
  [6.42,[1.16,.95,.83,.62,.51,.3,.19,-.02,-.13,-.34,-.46,-.66,-.77]],
  [6.53,[1.05,.89,.77,.56,.45,.24,.13,-.08,-.19,-.4,-.52,-.71]],
  [6.72,[1.14,.93,.81,.6,.49,.28,.17,-.04,-.15,-.36,-.48,-.68]],
  [6.83,[1.02,.86,.74,.53,.42,.21,.1,-.11,-.22,-.43,-.55,-.73]],
  [7.02,[1.15,.93,.81,.6,.49,.28,.17,-.04,-.15,-.36,-.48,-.68]],
  [7.13,[1.02,.86,.74,.53,.42,.21,.1,-.11,-.22,-.43,-.55,-.73]],
  [7.32,[1.13,.91,.79,.58,.47,.26,.15,-.06,-.17,-.38,-.5,-.69]],
  [7.43,[1.01,.85,.73,.52,.41,.2,.09,-.12,-.23,-.44,-.56,-.72]],
  [7.62,[1.13,.91,.79,.58,.47,.26,.15,-.06,-.17,-.38,-.5,-.69]],
  [7.73,[1.01,.85,.73,.52,.41,.2,.09,-.12,-.23,-.44,-.56,-.72]],
  [7.92,[1.12,.91,.79,.58,.47,.26,.15,-.06,-.17,-.38,-.5,-.69]],
  [8.03,[1,.85,.73,.52,.41,.2,.09,-.12,-.23,-.44,-.56,-.72]],
  [8.22,[1.13,.91,.79,.58,.47,.26,.15,-.06,-.17,-.38,-.5,-.69]],
  [8.33,[1.01,.85,.73,.52,.41,.2,.09,-.12,-.23,-.44,-.56,-.72]],
  [8.52,[1.12,.91,.79,.58,.47,.26,.15,-.06,-.17,-.38,-.5,-.69]],
  [8.63,[1.01,.85,.73,.52,.41,.2,.09,-.12,-.23,-.44,-.56,-.72]],
  [8.82,[1.13,.91,.79,.58,.47,.26,.15,-.06,-.17,-.38,-.5,-.69]],
  [8.93,[1,.85,.73,.52,.41,.2,.09,-.12,-.23,-.44,-.56,-.72]],
  [9.12,[1.1,.89,.77,.56,.45,.24,.13,-.08,-.19,-.4,-.52,-.68]],
  [9.23,[.99,.83,.71,.5,.39,.18,.07,-.14,-.25,-.46,-.58,-.72]],
  [9.42,[1.1,.89,.77,.56,.45,.24,.13,-.08,-.19,-.4,-.52,-.68]],
  [9.53,[.99,.83,.71,.5,.39,.18,.07,-.14,-.25,-.46,-.58,-.72]],
  [9.72,[1.1,.89,.77,.56,.45,.24,.13,-.08,-.19,-.4,-.52,-.68]],
  [9.83,[.99,.83,.71,.5,.39,.18,.07,-.14,-.25,-.46,-.58,-.72]],
  [10.02,[1.07,.87,.75,.54,.43,.22,.11,-.1,-.21,-.42,-.54,-.68]],
  [10.13,[.97,.81,.69,.48,.37,.16,.05,-.16,-.27,-.48,-.6,-.72]],
  [10.32,[1.07,.87,.75,.54,.43,.22,.11,-.1,-.21,-.42,-.54,-.68]],
  [10.43,[.97,.81,.69,.48,.37,.16,.05,-.16,-.27,-.48,-.6,-.7]],
  [10.62,[1.04,.83,.71,.5,.39,.18,.07,-.14,-.25,-.46,-.58]],
  [10.73,[.93,.77,.65,.44,.33,.12,.01,-.2,-.31,-.52,-.64]],
  [10.92,[1.04,.83,.71,.5,.39,.18,.07,-.14,-.25,-.46,-.58]],
  [11.03,[.93,.77,.65,.44,.33,.12,.01,-.2,-.31,-.52,-.64]],
  [11.22,[1.02,.81,.69,.48,.37,.16,.05,-.16,-.27,-.48,-.6]],
  [11.33,[.91,.75,.63,.42,.31,.1,-.01,-.22,-.33,-.54,-.66]],
  [11.52,[1,.79,.67,.46,.35,.14,.03,-.18,-.29,-.5,-.62]],
  [11.63,[.87,.71,.59,.38,.27,.06,-.05,-.26,-.37,-.58,-.68]],
  [11.82,[.97,.75,.63,.42,.31,.1,-.01,-.22,-.33,-.54,-.62]],
  [11.93,[.83,.67,.55,.34,.23,.02,-.09,-.3,-.41,-.61]],
  [12.12,[.92,.69,.57,.36,.25,.04,-.07,-.28,-.39,-.58]],
  [12.23,[.79,.59,.47,.26,.15,-.06,-.17,-.38,-.49,-.66]],
  [12.42,[.87,.65,.51,.28,.17,-.04,-.15,-.36,-.51]],
  [12.53,[.75,.55,.39,.16,.03,-.2,-.33,-.56,-.69]],
  [12.72,[.82,.57,.43,.18,.05,-.18,-.31,-.54]],
  [12.83,[.69,.47,.31,.06,-.09,-.34,-.51]],
];

const grayFill: [number, number[]][] = [
  [3.9,[1.05,.72,.36,.02,-.33,-.66]],[4.22,[.96,.62,.3,-.06,-.4,-.72]],[4.52,[.85,.53,.2,-.13,-.46,-.78]],[4.83,[.8,.48,.18,-.15,-.47,-.77]],[5.13,[1.06,.75,.44,.12,-.2,-.52]],[5.43,[.99,.74,.44,.14,-.21,-.52]],[5.72,[1.02,.74,.42,.1,-.22,-.54]],[6.02,[1.02,.72,.4,.08,-.24,-.56]],[6.32,[1,.69,.38,.07,-.25,-.58]],[6.62,[.98,.68,.37,.06,-.26,-.58]],[6.92,[.96,.66,.36,.04,-.28,-.6]],[7.22,[.96,.66,.34,.03,-.29,-.6]],[7.52,[.95,.65,.33,.02,-.3,-.62]],[7.82,[.95,.64,.32,.01,-.3,-.62]],[8.12,[.95,.63,.32,0,-.31,-.62]],[8.42,[.95,.64,.32,.01,-.3,-.62]],[8.72,[.96,.64,.33,.01,-.3,-.62]],[9.02,[.93,.62,.32,.01,-.31,-.61]],[9.32,[.94,.63,.31,0,-.32,-.62]],[9.62,[.93,.62,.3,0,-.33,-.62]],[9.92,[.93,.61,.3,-.02,-.34,-.63]],[10.22,[.91,.6,.3,-.03,-.35,-.64]],[10.52,[.89,.59,.28,-.05,-.36,-.65]],[10.82,[.87,.56,.25,-.07,-.38,-.66]],[11.12,[.85,.54,.22,-.1,-.42,-.67]],[11.42,[.84,.52,.22,-.11,-.42]],[11.72,[.82,.5,.19,-.14,-.44]],[12.02,[.78,.46,.14,-.17,-.5]],[12.32,[.74,.4,.08,-.24,-.58]],
];

const graySparse: number[][] = [
  [3,4.89],[5.92,3.76],[4.65,-3.51],[4.8,-3.72],[5.37,-5.44],[7.97,-5.06],[4.87,-2.72],
  [10.48,7.94],[9.18,5.87],[7.97,5.33],[9.52,5.26],[13.25,8.35],
  [11.3,3.22],[10.33,2.39],[9.76,2.76],[10.59,4.44],[8.44,4.38],[8.5,1.6],[9,2.05],[7.3,1.75],[6.7,1.52],[7.75,1.33],[8.2,1.3],[9.35,1.27],[10.1,1.35],[11.2,1.25],[12.3,1.1],[5.05,1.45],[5.8,1.4],[6.4,1.36],[5.3,-1],[6.3,-.92],[7.5,-.88],[8.7,-.86],[9.8,-.9],[10.7,-.85],[11.7,-.88],[4.3,-1.2],[3.9,-1.32],[4.7,-1.1],[4.1,1.5],[3.55,1.65],[6.95,1.28],[7.5,1.22],[8.4,1.2],[8.9,1.26],[9.6,1.2],[10.4,1.2],[10.9,1.18],[11.6,1.1],[12,1.04],
  [21.92,.52],[18.13,-1.1],[16.61,1.18],[15.73,1.35],[16.01,.9],[15.16,.78],[14.75,.68],[14.11,1.08],[13.86,.6],[14.13,.54],[14.27,.46],[15.18,.51],[15.23,.46],[15.63,.45],[15.96,.38],[16.23,.41],[15.11,.33],[14.96,.24],[14.67,.22],[14.44,.29],[14.94,0],[15.05,0],[15.18,-.09],[15.56,-.18],[15.73,-.18],[14.59,-.06],[14.66,-.31],[14.42,-.34],[14.13,-.43],[14.56,-.6],[14.32,-.67],[14.75,-.7],[14.48,-.69],[13.98,-.15],[14.08,-.15],[13.79,0],[13.6,.2],[13.41,.45],[13.7,.38],[14.17,.11],[14.37,.24],[13.84,.11],[13.3,.16],[13.12,.72],[13.31,.72],[13.46,.72],[12.93,.9],[12.64,1.25],[13.39,0],[13.5,-.24],[13.74,-.28],[13.89,-.46],[13.6,-.54],[13.3,-.59],[13.41,-.76],[13.03,-.41],[13.07,-.15],[12.74,-.5],[13.79,-.67],[13,.3],[13.15,.45],[13.2,-.3],
];

const expand = (cols: [number, number[]][]) => cols.flatMap(([x, ys]) => ys.map((y) => [x, y]));

const FONT = '"Liberation Sans", Arial, sans-serif';
const yellow = "#FFBF27";
const gray = "#BEBEBE";
const SIDE = 24.6;

export default function App() {
  const ref = useRef<HTMLDivElement>(null);
  useEffect(() => {
    const chart = echarts.init(ref.current!, undefined, { renderer: "svg" });
    const xLabel = (v: number) => xTickLabels[majorX.indexOf(v)] ?? "";
    const yLabel = (v: number) => yTickLabels[majorY.indexOf(v)] ?? "";
    const centered = (o: object) => ({ textAlign: "center", textVerticalAlign: "middle", fontFamily: FONT, fill: "#000", ...o });
    const text = (t: string, x: number, y: number, fontSize = SIDE) => ({
      type: "text", x, y, silent: true, style: centered({ text: t, fontSize }),
    });
    const tick = (padding: number[]) => ({ fontFamily: FONT, fontSize: 30, color: "#000", padding });
    chart.setOption({
      animation: false,
      backgroundColor: "#fff",
      grid: { left: 157, top: 16, right: 373, bottom: 142, containLabel: false },
      xAxis: {
        type: "value", min: -1.12, max: 23,
        name: "Expression level in stationary phase", nameLocation: "middle", nameGap: 61,
        nameTextStyle: { fontFamily: FONT, fontSize: 37, color: "#000", padding: [0, 36, 0, 0] },
        axisLine: { show: false },
        axisTick: { show: false, customValues: majorX },
        axisLabel: {
          customValues: majorX, margin: 9, color: "#000", fontFamily: FONT, fontSize: 30,
          formatter: (v: number) => {
            const s = xLabel(v);
            return s === "0" ? "{z|0}" : s === "5" ? "{f|5}" : s === "10" ? "{t|10}" : "{p|" + s + "}";
          },
          rich: { z: tick([0, 0, 0, 16]), f: tick([0, 0, 0, 4]), t: tick([0, 4, 0, 0]), p: tick([0, 0, 0, 0]) },
        },
        splitLine: { show: true, lineStyle: { color: "#EDEDED", width: 1.5 } },
      },
      yAxis: {
        type: "value", min: -8, max: 13,
        name: "log2 Fold Change", nameLocation: "middle", nameGap: 109,
        nameTextStyle: { fontFamily: FONT, fontSize: 37, color: "#000" },
        axisLine: { show: false },
        axisTick: { show: false, customValues: majorY },
        axisLabel: {
          customValues: majorY, margin: 6, color: "#000", fontFamily: FONT, fontSize: 30,
          formatter: (v: number) => {
            const s = yLabel(v);
            return s === "- 5" ? "{a|- 5}" : s === "0" ? "{b|0}" : s === "5" ? "{c|5}" : "{d|10}";
          },
          rich: { a: tick([0, 0, 0, 0]), b: tick([0, 8, 0, 0]), c: tick([0, 8, 10, 0]), d: tick([0, 2, 6, 0]) },
        },
        splitLine: { show: true, lineStyle: { color: "#EDEDED", width: 1.5 } },
      },
      series: [
        {
          name: "grid", type: "scatter", data: [], silent: true, z: 0,
          markLine: {
            z: 0, silent: true, symbol: "none", label: { show: false },
            lineStyle: { color: "#F0F0F0", width: 1, type: "solid" },
            data: [...minorX.map((v) => ({ xAxis: v })), ...minorY.map((v) => ({ yAxis: v }))],
          },
        },
        {
          name: "cgc genes", type: "scatter", symbol: "circle", symbolSize: 6, z: 2,
          itemStyle: { color: "#EE3F0C", opacity: 1 }, data: cgcGenes,
        },
        {
          name: "other genes", type: "scatter", symbol: "triangle", symbolSize: [8, 7], z: 3, large: false,
          itemStyle: { color: yellow, opacity: 1 },
          data: [...otherTop, ...otherBottom, ...otherUpperLeft, ...otherUpperRight, ...expand(otherUpColumns), ...expand(otherUpFill), ...expand(otherDownColumns), ...expand(otherDownFill)],
        },
        {
          name: "Not statistically regulated genes", type: "scatter", symbol: "triangle", symbolSize: [8, 7], z: 4,
          itemStyle: { color: gray, opacity: 1 },
          data: [...expand(grayColumns), ...expand(grayFill), ...graySparse],
        },
      ],
      graphic: [
        { type: "text", x: 75, y: 411, rotation: Math.PI / 2, silent: true,
          style: centered({ text: "(Stationary over Exponential phase)", fontSize: 24.7 }) },
        text("(Number of DESeq2 normalized reads, log2)", 560, 940),
        text("Number of regulated genes", 1197, 373),
        { type: "text", x: 1200, y: 412, silent: true,
          style: centered({
            text: "{n|(48 h }{i|vs}{n| 24 h):}",
            rich: {
              n: { fontFamily: FONT, fontSize: SIDE, fill: "#000" },
              i: { fontFamily: FONT, fontSize: SIDE, fontStyle: "italic", fill: "#000" },
            },
          }) },
        text("up 2133", 1200, 451),
        text("down 1940", 1200, 489),
        { type: "rect", shape: { x: 1027.5, y: 541.5, width: 400, height: 257 }, silent: true, style: { fill: "none", stroke: "#8C8C8C", lineWidth: 1 } },
        text("Statistically regulated genes:", 1202, 559),
        { type: "ellipse", shape: { cx: 1073, cy: 600.5, rx: 14, ry: 13 }, silent: true, style: { fill: "#F44E13" } },
        { type: "text", x: 1201, y: 596, silent: true,
          style: centered({
            text: "{i|cgc}{n| genes}",
            rich: {
              n: { fontFamily: FONT, fontSize: SIDE, fill: "#000" },
              i: { fontFamily: FONT, fontSize: SIDE, fontStyle: "italic", fill: "#000" },
            },
          }) },
        { type: "polygon", shape: { points: [[1055, 656], [1091, 656], [1073, 626]] }, silent: true, style: { fill: yellow } },
        text("other genes", 1201, 642),
        { type: "line", shape: { x1: 1045, y1: 699.5, x2: 1358, y2: 699.5 }, silent: true, style: { stroke: "#8C8C8C", lineWidth: 1 } },
        { type: "polygon", shape: { points: [[1055, 770], [1091, 770], [1073, 740]] }, silent: true, style: { fill: gray } },
        text("Not statistically", 1201, 741),
        text("regulated genes", 1201, 772),
      ],
    });
    return () => chart.dispose();
  }, []);
  return <div ref={ref} style={{ position: "fixed", left: 0, top: 0, width: 1371, height: 958 }} />;
}
